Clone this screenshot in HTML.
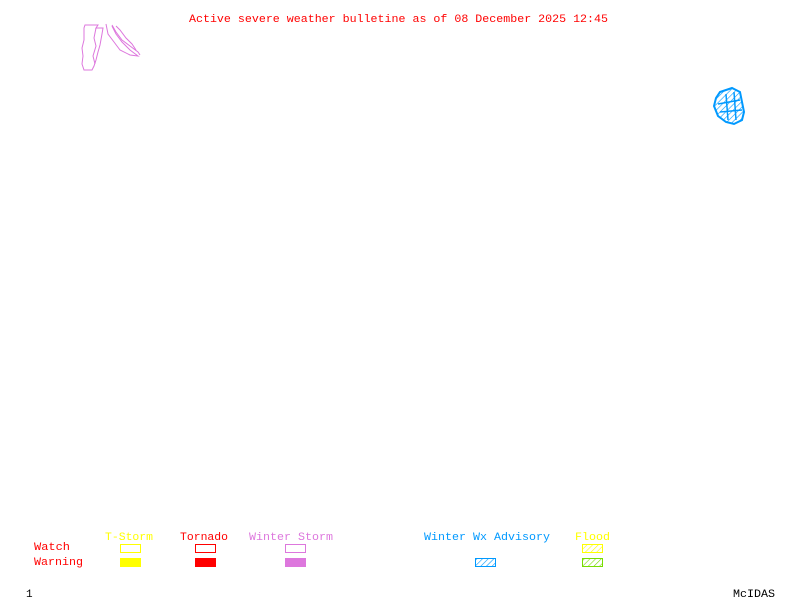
<!DOCTYPE html>
<html><head><style>body{margin:0;background:#fff}svg{display:block}text{font-family:"Liberation Mono",monospace;font-size:11px}</style></head>
<body>
<svg width="800" height="600" xmlns="http://www.w3.org/2000/svg">
<defs>
<pattern id="hb" width="4" height="4" patternUnits="userSpaceOnUse" patternTransform="rotate(45)"><line x1="0" y1="0" x2="0" y2="4" stroke="#0099ff" stroke-width="1.2"/></pattern>
<pattern id="hy" width="4" height="4" patternUnits="userSpaceOnUse" patternTransform="rotate(45)"><line x1="0" y1="0" x2="0" y2="4" stroke="#ffff00" stroke-width="1.2"/></pattern>
<pattern id="hg" width="4" height="4" patternUnits="userSpaceOnUse" patternTransform="rotate(45)"><line x1="0" y1="0" x2="0" y2="4" stroke="#77dd00" stroke-width="1.2"/></pattern>
</defs>
<text x="189" y="22" fill="#ff0000" textLength="419" lengthAdjust="spacingAndGlyphs">Active severe weather bulletine as of 08 December 2025 12:45</text>
<g fill="none" stroke="#dd77dd" stroke-width="1">
<path d="M85,25 L98,25 L96,28 L103,28 L102,34 L100,45 L98,52 L96,60 L94,66 L92,70 L84,70 L82,64 L83,56 L82,48 L84,40 L84,28 Z"/>
<path d="M96,28 L94,38 L96,46 L93,56 L95,64"/>
<path d="M106,24 L108,34 L114,42 L120,50 L130,55 L138,56 L130,50 L122,42 L116,34 L112,26"/>
<path d="M112,25 L116,32 L122,40 L130,46 L138,52 L140,55"/>
<path d="M116,26 L120,30 L126,38 L132,44 L136,50"/>
</g>
<path d="M720,92 L732,88 L740,92 L742,102 L744,112 L742,120 L734,124 L726,122 L718,116 L714,106 L716,98 Z" fill="url(#hb)" stroke="#0099ff" stroke-width="2"/>
<g fill="none" stroke="#0099ff" stroke-width="1.5"><path d="M718,104 L740,100 M720,112 L742,110 M726,94 L728,120 M734,92 L736,120"/></g>
<text x="105" y="540" fill="#ffff00" textLength="48" lengthAdjust="spacingAndGlyphs">T-Storm</text>
<text x="180" y="540" fill="#ff0000" textLength="48" lengthAdjust="spacingAndGlyphs">Tornado</text>
<text x="249" y="540" fill="#dd77dd" textLength="84" lengthAdjust="spacingAndGlyphs">Winter Storm</text>
<text x="424" y="540" fill="#0099ff" textLength="126" lengthAdjust="spacingAndGlyphs">Winter Wx Advisory</text>
<text x="575" y="540" fill="#ffff00" textLength="35" lengthAdjust="spacingAndGlyphs">Flood</text>
<text x="34" y="550" fill="#ff0000" textLength="36" lengthAdjust="spacingAndGlyphs">Watch</text>
<text x="34" y="565" fill="#ff0000" textLength="49" lengthAdjust="spacingAndGlyphs">Warning</text>
<rect x="120.5" y="544.5" width="20" height="8" fill="none" stroke="#ffff00"/>
<rect x="195.5" y="544.5" width="20" height="8" fill="none" stroke="#ff0000"/>
<rect x="285.5" y="544.5" width="20" height="8" fill="none" stroke="#dd77dd"/>
<rect x="582.5" y="544.5" width="20" height="8" fill="url(#hy)" stroke="#ffff00"/>
<rect x="120" y="558" width="21" height="9" fill="#ffff00"/>
<rect x="195" y="558" width="21" height="9" fill="#ff0000"/>
<rect x="285" y="558" width="21" height="9" fill="#dd77dd"/>
<rect x="475.5" y="558.5" width="20" height="8" fill="url(#hb)" stroke="#0099ff"/>
<rect x="582.5" y="558.5" width="20" height="8" fill="url(#hg)" stroke="#77dd00"/>
<text x="26" y="597" fill="#000">1</text>
<text x="733" y="597" fill="#000" textLength="42" lengthAdjust="spacingAndGlyphs">McIDAS</text>
</svg>
</body></html>
